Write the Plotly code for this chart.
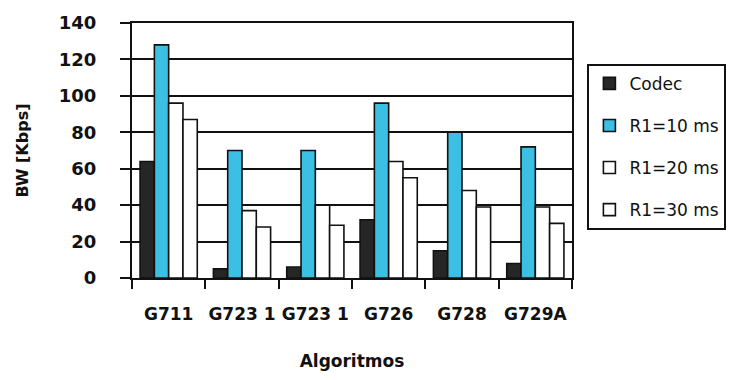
import plotly.graph_objects as go

categories = ["G711", "G723 1", "G723 1", "G726", "G728", "G729A"]
series_names = ["Codec", "R1=10 ms", "R1=20 ms", "R1=30 ms"]
codec = [64, 5, 6, 32, 15, 8]
r1_10 = [128, 70, 70, 96, 80, 72]
r1_20 = [96, 37, 40, 64, 48, 39]
r1_30 = [87, 28, 29, 55, 39, 30]
y_ticks = [0, 20, 40, 60, 80, 100, 120, 140]

series_values = [codec, r1_10, r1_20, r1_30]
colors = ["#262626", "#3BBFE3", "#FFFFFF", "#FFFFFF"]

x_pos = list(range(len(categories)))

fig = go.Figure()
for i, (name, vals) in enumerate(zip(series_names, series_values)):
    fig.add_trace(go.Bar(
        x=x_pos, y=vals, name=name, legendgroup=name,
        marker=dict(color=colors[i], line=dict(color="#111111", width=1.6)),
    ))

font_main = "DejaVu Sans"
fig.update_layout(
    width=740, height=380,
    margin=dict(l=132, r=168, t=21, b=101),
    paper_bgcolor="white", plot_bgcolor="white",
    barmode="group", bargap=0.22, bargroupgap=0,
    font=dict(family=font_main, color="#111111"),
    legend=dict(
        x=1.035, y=0.84, xanchor="left", yanchor="top",
        bordercolor="#111111", borderwidth=2,
        font=dict(size=17, family=font_main, color="#111111"),
        tracegroupgap=17, itemwidth=30,
    ),
    showlegend=True,
)
fig.update_xaxes(
    range=[-0.5, len(categories) - 0.5],
    tickvals=x_pos, ticktext=categories, ticks="",
    tickfont=dict(size=17, family=font_main, color="#111111", weight="bold"),
    ticklabelstandoff=20,
    minor=dict(tickmode="linear", tick0=-0.5, dtick=1, ticks="outside",
               ticklen=9, tickwidth=2, tickcolor="#111111", showgrid=False),
    showline=True, linecolor="#111111", linewidth=2, mirror=True,
    showgrid=False, zeroline=False,
    title=dict(text="Algoritmos", standoff=32,
               font=dict(size=17, family=font_main, color="#111111", weight="bold")),
)
fig.update_yaxes(
    range=[0, 140], tickvals=y_ticks,
    ticks="outside", ticklen=10, tickwidth=2, tickcolor="#111111",
    ticklabelstandoff=20,
    tickfont=dict(size=18, family=font_main, color="#111111", weight="bold"),
    showgrid=True, gridcolor="#111111", gridwidth=2,
    showline=True, linecolor="#111111", linewidth=2, mirror=True,
    zeroline=False,
    title=dict(text="BW [Kbps]", standoff=26,
               font=dict(size=16, family=font_main, color="#111111", weight="bold")),
)

fig.write_html("out.html")
